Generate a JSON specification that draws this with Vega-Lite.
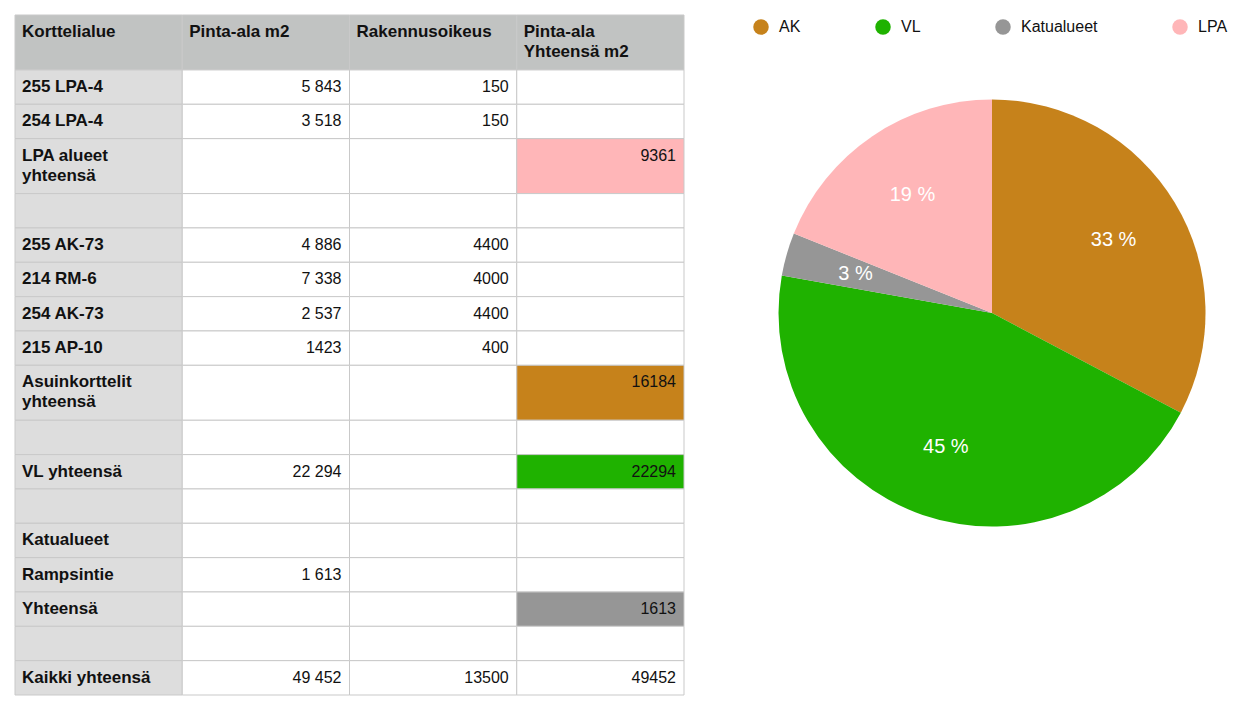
{
  "$schema": "https://vega.github.io/schema/vega-lite/v6.json",
  "background": "white",
  "padding": {"left": 14, "top": 14, "right": 0, "bottom": 7},
  "autosize": {"type": "pad"},
  "bounds": "flush",
  "spacing": 59,
  "config": {"view": {"stroke": null}},
  "datasets": {
    "taulukko": [
      {"r": 0, "rivit": 2, "a": "Korttelialue", "b": "Pinta-ala m2", "c": "Rakennusoikeus", "d": "Pinta-ala\nYhteensä m2", "luokka": null},
      {"r": 1, "rivit": 1, "a": "255 LPA-4", "b": "5 843", "c": "150", "d": "", "luokka": null},
      {"r": 2, "rivit": 1, "a": "254 LPA-4", "b": "3 518", "c": "150", "d": "", "luokka": null},
      {"r": 3, "rivit": 2, "a": "LPA alueet\nyhteensä", "b": "", "c": "", "d": "9361", "luokka": "LPA"},
      {"r": 4, "rivit": 1, "a": "", "b": "", "c": "", "d": "", "luokka": null},
      {"r": 5, "rivit": 1, "a": "255 AK-73", "b": "4 886", "c": "4400", "d": "", "luokka": null},
      {"r": 6, "rivit": 1, "a": "214 RM-6", "b": "7 338", "c": "4000", "d": "", "luokka": null},
      {"r": 7, "rivit": 1, "a": "254 AK-73", "b": "2 537", "c": "4400", "d": "", "luokka": null},
      {"r": 8, "rivit": 1, "a": "215 AP-10", "b": "1423", "c": "400", "d": "", "luokka": null},
      {"r": 9, "rivit": 2, "a": "Asuinkorttelit\nyhteensä", "b": "", "c": "", "d": "16184", "luokka": "AK"},
      {"r": 10, "rivit": 1, "a": "", "b": "", "c": "", "d": "", "luokka": null},
      {"r": 11, "rivit": 1, "a": "VL yhteensä", "b": "22 294", "c": "", "d": "22294", "luokka": "VL"},
      {"r": 12, "rivit": 1, "a": "", "b": "", "c": "", "d": "", "luokka": null},
      {"r": 13, "rivit": 1, "a": "Katualueet", "b": "", "c": "", "d": "", "luokka": null},
      {"r": 14, "rivit": 1, "a": "Rampsintie", "b": "1 613", "c": "", "d": "", "luokka": null},
      {"r": 15, "rivit": 1, "a": "Yhteensä", "b": "", "c": "", "d": "1613", "luokka": "Katualueet"},
      {"r": 16, "rivit": 1, "a": "", "b": "", "c": "", "d": "", "luokka": null},
      {"r": 17, "rivit": 1, "a": "Kaikki yhteensä", "b": "49 452", "c": "13500", "d": "49452", "luokka": null}
    ],
    "piirakka": [
      {"luokka": "AK", "pinta": 16184, "osuus": "33 %", "jarjestys": 1},
      {"luokka": "VL", "pinta": 22294, "osuus": "45 %", "jarjestys": 2},
      {"luokka": "Katualueet", "pinta": 1613, "osuus": "3 %", "jarjestys": 3},
      {"luokka": "LPA", "pinta": 9361, "osuus": "19 %", "jarjestys": 4}
    ]
  },
  "hconcat": [
    {
      "width": 669,
      "height": 680,
      "data": {"name": "taulukko"},
      "transform": [
        {"calculate": "datum.rivit == 2 ? 1.6 : 1", "as": "h"},
        {"stack": "h", "groupby": [], "sort": [{"field": "r", "order": "ascending"}], "as": ["y0", "y1"]},
        {"fold": ["a", "b", "c", "d"], "as": ["sarake", "teksti"]},
        {"calculate": "datum.r == 0 ? 'otsikko' : (datum.sarake == 'a' ? 'nimi' : ((datum.sarake == 'd' && datum.luokka) ? datum.luokka : 'tyhja'))", "as": "solu"}
      ],
      "encoding": {
        "x": {"field": "sarake", "type": "nominal", "scale": {"domain": ["a", "b", "c", "d"], "paddingInner": 0, "paddingOuter": 0}, "axis": null},
        "y": {"field": "y0", "type": "quantitative", "scale": {"domain": [0, 19.8], "reverse": true, "nice": false, "zero": false}, "axis": null}
      },
      "layer": [
        {
          "mark": {"type": "rect", "stroke": "#c9c9c9", "strokeWidth": 1},
          "encoding": {
            "y2": {"field": "y1"},
            "fill": {"field": "solu", "type": "nominal", "legend": null,
              "scale": {"domain": ["otsikko", "nimi", "tyhja", "AK", "VL", "Katualueet", "LPA"],
                        "range": ["#c1c3c2", "#dddddd", "#ffffff", "#c6821b", "#1fb200", "#969696", "#ffb6b8"]}}
          }
        },
        {
          "transform": [{"filter": "datum.r == 0 || datum.sarake == 'a'"}],
          "mark": {"type": "text", "align": "left", "baseline": "top", "dx": 7, "dy": 9, "font": "Liberation Sans", "fontSize": 17, "fontWeight": "bold", "lineBreak": "\n", "lineHeight": 20, "fill": "#111111"},
          "encoding": {
            "x": {"field": "sarake", "type": "nominal", "bandPosition": 0},
            "text": {"field": "teksti", "type": "nominal"}
          }
        },
        {
          "transform": [{"filter": "datum.r > 0 && datum.sarake != 'a'"}],
          "mark": {"type": "text", "align": "right", "baseline": "top", "dx": -8, "dy": 9, "font": "Liberation Sans", "fontSize": 16, "lineBreak": "\n", "lineHeight": 20, "fill": "#111111"},
          "encoding": {
            "x": {"field": "sarake", "type": "nominal", "bandPosition": 1},
            "text": {"field": "teksti", "type": "nominal"}
          }
        }
      ]
    },
    {
      "width": 498,
      "height": 596,
      "data": {"name": "piirakka"},
      "encoding": {
        "theta": {"field": "pinta", "type": "quantitative", "stack": true},
        "order": {"field": "jarjestys", "type": "quantitative"}
      },
      "layer": [
        {
          "mark": {"type": "arc", "outerRadius": 213.5},
          "encoding": {
            "color": {"field": "luokka", "type": "nominal",
              "scale": {"domain": ["AK", "VL", "Katualueet", "LPA"], "range": ["#c6821b", "#1fb200", "#969696", "#ffb6b8"]},
              "legend": {"orient": "none", "direction": "horizontal", "legendX": 10, "legendY": 4, "title": null,
                "symbolType": "circle", "symbolSize": 240, "symbolStrokeWidth": 0, "symbolOpacity": 1,
                "labelFont": "Liberation Sans", "labelFontSize": 16, "labelColor": "#111111",
                "labelOffset": 10, "columnPadding": 74, "padding": 0}}
          }
        },
        {
          "mark": {"type": "text", "radius": 142, "fill": "white", "font": "Liberation Sans", "fontSize": 20},
          "encoding": {"text": {"field": "osuus", "type": "nominal"}}
        }
      ]
    }
  ],
  "resolve": {"scale": {"color": "independent", "fill": "independent"}}
}
